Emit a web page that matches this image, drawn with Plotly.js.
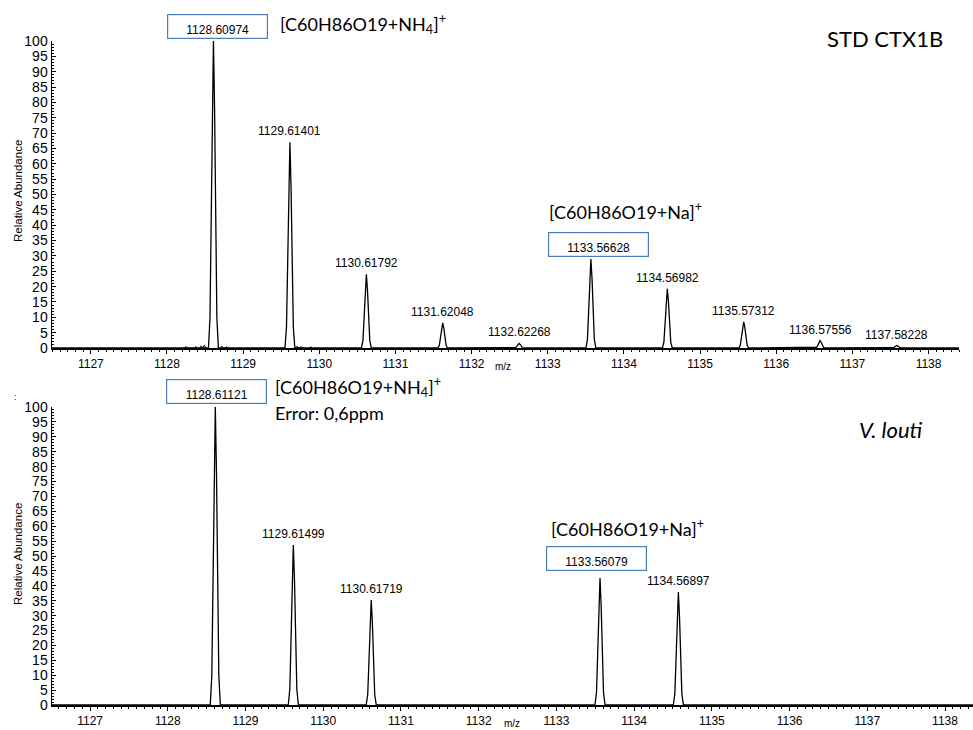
<!DOCTYPE html>
<html>
<head>
<meta charset="utf-8">
<script src="https://cdn.plot.ly/plotly-3.0.1.min.js"></script>
<style>html,body{margin:0;padding:0;background:#fff;}#chart{width:973px;height:730px;}</style>
</head>
<body>
<div id="chart"></div>
<script>
// ---- data ----
const STD_MZ  = [1128.60974, 1129.61401, 1130.61792, 1131.62048, 1132.62268, 1133.56628, 1134.56982, 1135.57312, 1136.57556, 1137.58228];
const STD_INT = [100, 67, 24, 8.2, 1.5, 29, 19.3, 8.5, 2.4, 0.8];
const STD_LABELS = ["1128.60974", "1129.61401", "1130.61792", "1131.62048", "1132.62268", "1133.56628", "1134.56982", "1135.57312", "1136.57556", "1137.58228"];
const STD_NOISE_MZ  = [1128.25, 1128.38, 1128.45, 1128.49, 1128.72, 1128.78, 1129.71, 1129.76, 1129.89];
const STD_NOISE_INT = [0.5, 0.5, 0.7, 0.9, 0.6, 0.4, 0.6, 0.5, 0.4];

const LOUTI_MZ  = [1128.61121, 1129.61499, 1130.61719, 1133.56079, 1134.56897];
const LOUTI_INT = [100, 53.7, 35.2, 42.6, 37.9];
const LOUTI_LABELS = ["1128.61121", "1129.61499", "1130.61719", "1133.56079", "1134.56897"];

const X_TICKS = [1127, 1128, 1129, 1130, 1131, 1132, 1133, 1134, 1135, 1136, 1137, 1138];

// profile used to draw each centroid as a peak (style)
const PEAK_OFFSETS = [-0.065, -0.045, -0.03, -0.015, 0, 0.015, 0.03, 0.045, 0.065];
const PEAK_FACTORS = [0, 0.1, 0.36, 0.78, 1, 0.78, 0.36, 0.1, 0];
const NOISE_OFFSETS = [-0.02, 0, 0.02];
const NOISE_FACTORS = [0, 1, 0];

const TOP_RANGE = [1126.49, 1138.40];
const BOT_RANGE = [1126.51, 1138.36];

function profile(mz, inten, range) {
  const xs = [range[0]], ys = [0];
  mz.forEach((c, i) => {
    PEAK_OFFSETS.forEach((o, k) => { xs.push(c + o); ys.push(inten[i] * PEAK_FACTORS[k]); });
  });
  xs.push(range[1]); ys.push(0);
  return {xs, ys};
}
function noise(mz, inten) {
  const xs = [], ys = [];
  mz.forEach((c, i) => {
    NOISE_OFFSETS.forEach((o, k) => { xs.push(c + o); ys.push(inten[i] * NOISE_FACTORS[k]); });
    xs.push(null); ys.push(null);
  });
  return {xs, ys};
}

const topProf = profile(STD_MZ, STD_INT, TOP_RANGE);
const botProf = profile(LOUTI_MZ, LOUTI_INT, BOT_RANGE);
const noiseProf = noise(STD_NOISE_MZ, STD_NOISE_INT);

const LINE = {color: '#000', width: 1.3};
const traces = [
  {x: topProf.xs, y: topProf.ys, xaxis: 'x', yaxis: 'y', mode: 'lines', line: LINE, hoverinfo: 'skip'},
  {x: noiseProf.xs, y: noiseProf.ys, xaxis: 'x', yaxis: 'y', mode: 'lines', line: {color: '#000', width: 1}, connectgaps: false, hoverinfo: 'skip'},
  {x: botProf.xs, y: botProf.ys, xaxis: 'x2', yaxis: 'y2', mode: 'lines', line: LINE, hoverinfo: 'skip'}
];

const W = 973, H = 730;
const px = v => v / W, py = v => 1 - v / H;
const TICKFONT = 'Liberation Sans, Arial, sans-serif';
const CAL = 'Lato, Carlito, Calibri, sans-serif';
const BOXCOL = '#4a7ebb';

function xaxisDef(range, domain, anchor) {
  return {
    range: range, domain: domain, anchor: anchor,
    tickmode: 'array', tickvals: X_TICKS, ticktext: X_TICKS.map(String),
    ticks: 'outside', ticklen: 4, tickwidth: 1, tickcolor: '#000',
    minor: {dtick: 0.1, tick0: 1127, ticks: 'outside', ticklen: 2, tickcolor: '#000', tickwidth: 1},
    showline: true, linecolor: '#000', linewidth: 2,
    showgrid: false, zeroline: false,
    tickfont: {family: TICKFONT, size: 12, color: '#000'}
  };
}
function yaxisDef(domain, anchor) {
  return {
    range: [0, 100], domain: domain, anchor: anchor,
    tickmode: 'linear', tick0: 0, dtick: 5,
    ticks: 'inside', ticklen: 4, tickwidth: 1, tickcolor: '#000',
    minor: {dtick: 1, ticks: 'inside', ticklen: 2, tickcolor: '#000', tickwidth: 1},
    showline: true, linecolor: '#000', linewidth: 1.5,
    showgrid: false, zeroline: false,
    tickfont: {family: TICKFONT, size: 14, color: '#000'}
  };
}

const annotations = [];
function addLabels(mz, inten, labels, xref, yref, boxed) {
  mz.forEach((c, i) => {
    if (boxed.includes(i)) return;
    annotations.push({x: c, y: inten[i], xref: xref, yref: yref, text: labels[i], showarrow: false,
      xanchor: 'center', yanchor: 'bottom', yshift: 2,
      font: {family: TICKFONT, size: 12, color: '#000'}});
  });
}
addLabels(STD_MZ, STD_INT, STD_LABELS, 'x', 'y', [0, 5]);
addLabels(LOUTI_MZ, LOUTI_INT, LOUTI_LABELS, 'x2', 'y2', [0, 3]);

function boxLabel(x, y, text, xref, yref, xshift, yshift) {
  annotations.push({x: x, y: y, xref: xref, yref: yref, text: text, showarrow: false,
    xanchor: 'center', yanchor: 'bottom', xshift: xshift, yshift: yshift,
    width: 97, height: 21, valign: 'bottom', align: 'center',
    bordercolor: BOXCOL, borderwidth: 1.2, borderpad: 1, bgcolor: 'rgba(255,255,255,0)',
    font: {family: TICKFONT, size: 12, color: '#000'}});
}
boxLabel(STD_MZ[0], STD_INT[0], STD_LABELS[0], 'x', 'y', 4, 2);
boxLabel(STD_MZ[5], STD_INT[5], STD_LABELS[5], 'x', 'y', 8, 2);
boxLabel(LOUTI_MZ[0], LOUTI_INT[0], LOUTI_LABELS[0], 'x2', 'y2', 1, 3);
boxLabel(LOUTI_MZ[3], LOUTI_INT[3], LOUTI_LABELS[3], 'x2', 'y2', -4, 7);

function txt(xp, yp, text, size, extra) {
  annotations.push(Object.assign({x: px(xp), y: py(yp), xref: 'paper', yref: 'paper', text: text, showarrow: false,
    xanchor: 'left', yanchor: 'middle', font: {family: CAL, size: size, color: '#000'}}, extra || {}));
}
txt(278, 24, '[C60H86O19+NH<sub>4</sub>]<sup>+</sup>', 18);
txt(547, 211, '[C60H86O19+Na]<sup>+</sup>', 18);
txt(825, 39, 'STD CTX1B', 22);
txt(273, 387, '[C60H86O19+NH<sub>4</sub>]<sup>+</sup>', 18);
txt(273, 413, 'Error: 0,6ppm', 18);
txt(549, 528, '[C60H86O19+Na]<sup>+</sup>', 18);
txt(857, 429, '<i>V. louti</i>', 22);

function small(xp, yp, text, size, angle) {
  annotations.push({x: px(xp), y: py(yp), xref: 'paper', yref: 'paper', text: text, textangle: angle || 0,
    showarrow: false, xanchor: 'center', yanchor: 'middle', font: {family: TICKFONT, size: size, color: '#000'}});
}
small(18, 191, 'Relative Abundance', 11.5, -90);
small(18, 554, 'Relative Abundance', 11.5, -90);
small(503, 366, 'm/z', 10);
small(512, 723, 'm/z', 10);
small(15, 397, ':', 9);

const layout = {
  width: W, height: H,
  margin: {l: 0, r: 0, t: 0, b: 0},
  paper_bgcolor: '#fff', plot_bgcolor: '#fff',
  showlegend: false,
  xaxis: xaxisDef(TOP_RANGE, [px(52), px(959)], 'y'),
  yaxis: yaxisDef([py(348), py(41)], 'x'),
  xaxis2: xaxisDef(BOT_RANGE, [px(52), 1], 'y2'),
  yaxis2: yaxisDef([py(705), py(407)], 'x2'),
  annotations: annotations
};

Plotly.newPlot('chart', traces, layout, {staticPlot: true, displayModeBar: false});
</script>
</body>
</html>
